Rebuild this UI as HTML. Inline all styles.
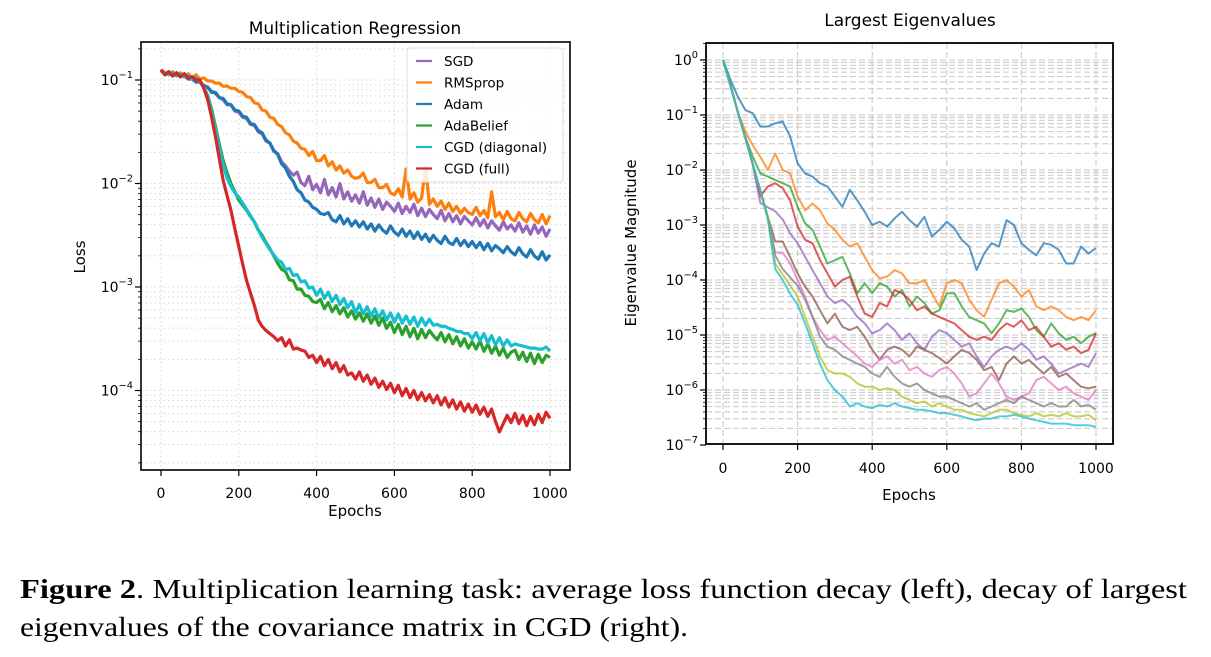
<!DOCTYPE html>
<html><head><meta charset="utf-8"><style>
html,body{margin:0;padding:0;background:#fff;}
svg{display:block;}
</style></head><body>
<svg id="fig" width="1211" height="657" viewBox="0 0 1211 657" xmlns="http://www.w3.org/2000/svg" font-family="'DejaVu Sans','Liberation Sans',sans-serif">
<g id="left"></g>
<g id="right"></g>
<g font-family="'Liberation Serif',serif" font-size="27" fill="#000">
<text x="20" y="598" textLength="1167" lengthAdjust="spacingAndGlyphs"><tspan font-weight="bold">Figure 2</tspan>. Multiplication learning task: average loss function decay (left), decay of largest</text>
<text x="20" y="636" textLength="668" lengthAdjust="spacingAndGlyphs">eigenvalues of the covariance matrix in CGD (right).</text>
</g>
</svg>
<script>
// ---------- LEFT CHART DATA (log10 loss, epochs 0..1000 step 10) ----------
const lossEpochStep = 10;
const seriesNames = ["SGD","RMSprop","Adam","AdaBelief","CGD (diagonal)","CGD (full)"];
const sgdLog = [-0.90,-0.94,-0.92,-0.95,-0.93,-0.97,-0.94,-0.98,-0.97,-1.01,-1.02,
-1.05,-1.07,-1.11,-1.13,-1.17,-1.19,-1.24,-1.24,-1.30,-1.31,
-1.36,-1.37,-1.43,-1.44,-1.50,-1.52,-1.59,-1.61,-1.69,-1.71,
-1.79,-1.83,-1.88,-1.92,-1.89,-1.99,-2.02,-1.93,-2.06,-2.01,
-2.09,-1.96,-2.11,-2.04,-2.13,-2.00,-2.15,-2.08,-2.17,-2.11,
-2.19,-2.08,-2.21,-2.14,-2.23,-2.15,-2.25,-2.18,-2.22,-2.27,
-2.19,-2.29,-2.22,-2.28,-2.20,-2.31,-2.24,-2.32,-2.25,-2.30,
-2.34,-2.26,-2.36,-2.29,-2.37,-2.31,-2.39,-2.32,-2.36,-2.40,
-2.33,-2.41,-2.35,-2.43,-2.36,-2.41,-2.45,-2.37,-2.44,-2.40,
-2.46,-2.38,-2.47,-2.41,-2.49,-2.40,-2.48,-2.42,-2.51,-2.44];
const rmspropLog = [-0.90,-0.93,-0.95,-0.92,-0.96,-0.93,-0.97,-0.94,-0.98,-0.95,-0.99,
-0.98,-1.01,-1.01,-1.03,-1.03,-1.06,-1.06,-1.08,-1.08,-1.11,
-1.12,-1.16,-1.17,-1.22,-1.23,-1.29,-1.30,-1.36,-1.37,-1.43,
-1.45,-1.51,-1.53,-1.59,-1.61,-1.66,-1.67,-1.73,-1.69,-1.78,
-1.78,-1.73,-1.83,-1.79,-1.87,-1.83,-1.90,-1.87,-1.93,-1.95,
-1.94,-1.90,-1.99,-1.99,-1.96,-2.04,-2.04,-2.01,-2.09,-2.11,
-2.05,-2.13,-1.86,-2.15,-2.09,-2.18,-2.14,-1.84,-2.20,-2.15,
-2.22,-2.17,-2.25,-2.19,-2.27,-2.22,-2.29,-2.24,-2.28,-2.30,
-2.23,-2.31,-2.26,-2.33,-2.08,-2.32,-2.28,-2.35,-2.27,-2.34,
-2.36,-2.28,-2.34,-2.37,-2.29,-2.35,-2.38,-2.30,-2.39,-2.31];
const adamLog = [-0.91,-0.94,-0.94,-0.95,-0.95,-0.96,-0.96,-0.99,-0.99,-1.02,-1.02,
-1.06,-1.07,-1.12,-1.12,-1.17,-1.18,-1.23,-1.24,-1.29,-1.30,
-1.35,-1.36,-1.42,-1.43,-1.49,-1.51,-1.58,-1.61,-1.68,-1.72,
-1.81,-1.85,-1.93,-1.98,-2.06,-2.09,-2.16,-2.18,-2.23,-2.25,
-2.29,-2.30,-2.28,-2.35,-2.37,-2.31,-2.39,-2.34,-2.41,-2.36,
-2.42,-2.37,-2.44,-2.39,-2.46,-2.40,-2.45,-2.48,-2.41,-2.47,
-2.50,-2.44,-2.51,-2.46,-2.53,-2.47,-2.54,-2.49,-2.56,-2.50,
-2.55,-2.58,-2.51,-2.57,-2.59,-2.53,-2.60,-2.55,-2.61,-2.56,
-2.62,-2.57,-2.64,-2.58,-2.65,-2.60,-2.63,-2.67,-2.61,-2.66,
-2.69,-2.62,-2.68,-2.71,-2.64,-2.70,-2.73,-2.66,-2.74,-2.69];
const adabeliefLog = [-0.90,-0.95,-0.92,-0.96,-0.93,-0.97,-0.94,-0.98,-0.97,-1.00,-1.02,
-1.07,-1.15,-1.28,-1.45,-1.62,-1.78,-1.90,-2.00,-2.08,-2.16,
-2.21,-2.26,-2.32,-2.37,-2.45,-2.50,-2.57,-2.63,-2.70,-2.77,
-2.83,-2.85,-2.93,-2.94,-3.02,-3.02,-3.08,-3.09,-3.14,-3.15,
-3.12,-3.21,-3.15,-3.24,-3.18,-3.26,-3.20,-3.29,-3.23,-3.31,
-3.25,-3.33,-3.26,-3.35,-3.28,-3.37,-3.30,-3.40,-3.34,-3.44,
-3.36,-3.46,-3.38,-3.48,-3.40,-3.50,-3.41,-3.49,-3.42,-3.47,
-3.51,-3.44,-3.53,-3.46,-3.55,-3.48,-3.57,-3.50,-3.59,-3.53,
-3.60,-3.52,-3.62,-3.55,-3.64,-3.57,-3.66,-3.59,-3.68,-3.63,
-3.61,-3.70,-3.63,-3.72,-3.64,-3.74,-3.65,-3.73,-3.66,-3.68];
const cgdDiagLog = [-0.91,-0.93,-0.95,-0.93,-0.96,-0.94,-0.97,-0.96,-0.99,-0.98,-1.02,
-1.07,-1.16,-1.30,-1.48,-1.66,-1.82,-1.95,-2.03,-2.09,-2.13,
-2.19,-2.25,-2.31,-2.37,-2.45,-2.52,-2.58,-2.64,-2.69,-2.74,
-2.76,-2.83,-2.82,-2.89,-2.88,-2.95,-2.94,-3.01,-3.00,-3.08,
-3.02,-3.11,-3.05,-3.14,-3.08,-3.17,-3.11,-3.20,-3.14,-3.25,
-3.17,-3.26,-3.19,-3.28,-3.21,-3.30,-3.23,-3.32,-3.25,-3.34,
-3.26,-3.35,-3.28,-3.36,-3.29,-3.38,-3.30,-3.37,-3.31,-3.37,
-3.36,-3.38,-3.38,-3.40,-3.41,-3.43,-3.43,-3.45,-3.45,-3.50,
-3.44,-3.52,-3.45,-3.54,-3.47,-3.56,-3.49,-3.57,-3.51,-3.57,
-3.55,-3.56,-3.57,-3.58,-3.59,-3.59,-3.60,-3.60,-3.58,-3.62];
const cgdFullLog = [-0.90,-0.95,-0.92,-0.96,-0.93,-0.97,-0.94,-0.98,-0.97,-1.00,-1.00,
-1.08,-1.19,-1.36,-1.55,-1.76,-1.97,-2.12,-2.26,-2.44,-2.61,
-2.78,-2.94,-3.06,-3.18,-3.32,-3.38,-3.42,-3.45,-3.48,-3.52,
-3.49,-3.57,-3.51,-3.60,-3.59,-3.61,-3.62,-3.68,-3.66,-3.73,
-3.67,-3.76,-3.70,-3.79,-3.73,-3.82,-3.76,-3.85,-3.83,-3.89,
-3.82,-3.91,-3.85,-3.94,-3.88,-3.97,-3.91,-3.99,-3.93,-4.02,
-3.95,-4.05,-3.98,-4.07,-4.00,-4.09,-4.02,-4.10,-4.04,-4.12,
-4.05,-4.14,-4.07,-4.16,-4.09,-4.18,-4.11,-4.20,-4.13,-4.21,
-4.14,-4.23,-4.16,-4.25,-4.18,-4.30,-4.40,-4.32,-4.24,-4.31,
-4.22,-4.32,-4.24,-4.34,-4.25,-4.33,-4.23,-4.31,-4.21,-4.27];
const xTickLabels = ["0","200","400","600","800","1000"];
const xTickValues = [0,200,400,600,800,1000];
const lossDecades = [-1,-2,-3,-4];
const eigDecades = [0,-1,-2,-3,-4,-5,-6,-7];

// ---------- RIGHT CHART DATA (log10 eigenvalue, epochs 0..1000 step 20) ----------
const eigEpochStep = 20;
const eig1 = [0,-0.36,-0.67,-0.91,-0.97,-1.21,-1.21,-1.15,-1.12,-1.39,-1.88,-2.06,-2.12,-2.24,-2.30,-2.48,-2.67,-2.36,-2.55,-2.76,-3.00,-2.94,-3.03,-2.88,-2.76,-2.91,-3.03,-2.85,-3.21,-3.09,-2.94,-3.06,-3.27,-3.39,-3.82,-3.52,-3.33,-3.39,-2.91,-3.00,-3.33,-3.45,-3.55,-3.33,-3.36,-3.45,-3.70,-3.70,-3.39,-3.52,-3.42];
const eig2 = [0,-0.45,-0.95,-1.30,-1.55,-1.76,-2.00,-1.70,-2.00,-2.06,-2.48,-2.73,-2.61,-2.73,-2.97,-3.09,-3.27,-3.39,-3.33,-3.58,-3.82,-3.97,-3.94,-3.82,-3.88,-4.06,-4.06,-4.00,-4.24,-4.48,-4.06,-4.00,-4.06,-4.36,-4.55,-4.67,-4.36,-4.06,-4.00,-4.12,-4.30,-4.18,-4.48,-4.55,-4.48,-4.55,-4.67,-4.73,-4.67,-4.73,-4.55];
const eig3 = [0,-0.45,-0.95,-1.40,-1.76,-2.06,-2.12,-2.18,-2.24,-2.30,-2.67,-2.97,-3.09,-3.39,-3.70,-3.64,-3.58,-3.88,-4.24,-4.06,-4.24,-4.06,-4.12,-4.30,-4.18,-4.48,-4.30,-4.42,-4.61,-4.55,-4.24,-4.24,-4.48,-4.67,-4.73,-4.79,-4.97,-4.79,-4.55,-4.58,-4.52,-4.67,-4.91,-5.03,-4.79,-4.97,-5.09,-5.03,-5.15,-5.03,-4.97];
const eig4 = [0,-0.47,-0.95,-1.42,-1.90,-2.48,-2.30,-2.24,-2.33,-2.55,-3.03,-3.27,-3.33,-3.64,-3.88,-4.12,-4.00,-3.94,-4.30,-4.61,-4.67,-4.42,-4.48,-4.18,-4.24,-4.36,-4.55,-4.48,-4.61,-4.67,-4.73,-4.79,-4.91,-5.03,-5.09,-5.03,-5.09,-4.91,-4.79,-4.85,-4.73,-4.91,-4.85,-5.03,-5.21,-5.15,-5.27,-5.21,-5.33,-5.27,-4.97];
const eig5 = [0,-0.47,-0.95,-1.42,-1.90,-2.60,-2.68,-2.75,-2.90,-3.15,-3.33,-3.58,-3.82,-4.06,-4.30,-4.42,-4.36,-4.48,-4.67,-4.79,-4.97,-4.91,-4.79,-4.91,-5.09,-4.97,-5.15,-5.27,-5.03,-4.91,-4.97,-5.09,-5.21,-5.15,-5.39,-5.58,-5.39,-5.27,-5.21,-5.27,-5.15,-5.27,-5.45,-5.39,-5.52,-5.70,-5.64,-5.58,-5.52,-5.58,-5.33];
const eig6 = [0,-0.47,-0.95,-1.42,-1.90,-2.37,-2.85,-3.30,-3.30,-3.58,-3.88,-4.12,-4.30,-4.55,-4.79,-4.61,-4.85,-4.91,-4.85,-5.03,-5.27,-5.45,-5.27,-5.21,-5.27,-5.39,-5.21,-5.27,-5.33,-5.42,-5.52,-5.39,-5.27,-5.33,-5.45,-5.64,-5.58,-5.82,-5.52,-5.39,-5.52,-5.45,-5.58,-5.70,-5.58,-5.76,-5.70,-5.82,-5.94,-5.97,-5.94];
const eig7 = [0,-0.47,-0.95,-1.42,-1.90,-2.37,-2.85,-3.50,-3.50,-3.70,-4.00,-4.30,-4.67,-4.91,-5.09,-5.03,-5.15,-5.27,-5.39,-5.52,-5.58,-5.45,-5.39,-5.52,-5.45,-5.64,-5.58,-5.70,-5.76,-5.64,-5.58,-5.70,-5.88,-6.12,-6.06,-5.88,-5.70,-5.88,-6.12,-6.18,-6.12,-6.06,-5.82,-5.76,-5.88,-6.00,-5.94,-6.06,-6.12,-6.18,-6.00];
const eig8 = [0,-0.47,-0.95,-1.42,-1.90,-2.37,-2.85,-3.55,-3.80,-3.95,-4.10,-4.36,-4.67,-5.03,-5.21,-5.27,-5.39,-5.45,-5.52,-5.58,-5.70,-5.76,-5.58,-5.76,-5.88,-5.94,-5.88,-6.00,-6.06,-6.12,-6.12,-6.18,-6.24,-6.30,-6.24,-6.36,-6.30,-6.24,-6.18,-6.24,-6.12,-6.18,-6.24,-6.30,-6.24,-6.30,-6.30,-6.18,-6.30,-6.27,-6.36];
const eig9 = [0,-0.47,-0.95,-1.42,-1.90,-2.37,-2.85,-3.70,-3.90,-4.10,-4.30,-4.67,-5.03,-5.39,-5.64,-5.70,-5.70,-5.76,-5.88,-5.94,-5.94,-6.00,-5.97,-6.00,-6.12,-6.18,-6.24,-6.21,-6.30,-6.24,-6.30,-6.36,-6.36,-6.42,-6.45,-6.48,-6.42,-6.36,-6.36,-6.42,-6.45,-6.48,-6.42,-6.48,-6.45,-6.48,-6.42,-6.48,-6.48,-6.45,-6.55];
const eig10 = [0,-0.47,-0.95,-1.42,-1.90,-2.37,-2.90,-3.80,-4.00,-4.25,-4.45,-4.79,-5.15,-5.52,-5.82,-6.00,-6.12,-6.30,-6.24,-6.30,-6.33,-6.27,-6.30,-6.24,-6.30,-6.33,-6.36,-6.36,-6.39,-6.42,-6.42,-6.45,-6.48,-6.52,-6.55,-6.52,-6.52,-6.48,-6.48,-6.45,-6.48,-6.52,-6.55,-6.58,-6.61,-6.61,-6.61,-6.64,-6.64,-6.64,-6.67];

const NS = "http://www.w3.org/2000/svg";
function mk(parent, tag, attrs){ const e=document.createElementNS(NS,tag); for(const k in attrs) e.setAttribute(k,attrs[k]); parent.appendChild(e); return e; }
function powLabel(parent, x, y, exp, size){
  const t = mk(parent,"text",{x:x,y:y,"text-anchor":"end","font-size":size,fill:"#000"});
  
  
  t.appendChild(document.createTextNode("10"));
  const s = mk(t,"tspan",{dy:-7,"font-size":size*0.7});
  s.textContent = (exp<0? "\u2212"+(-exp) : String(exp));
  return t;
}

// ---------- LEFT CHART ----------
(function(){
  const g = document.getElementById('left');
  const L={x0:141,x1:570,y0:42,y1:470};
  const xs = e => 161 + e*(550-161)/1000;
  const ys = lg => 80 + (-1-lg)*103.5;
  const grid = mk(g,"g",{stroke:"#d6d6d6","stroke-width":1,"stroke-dasharray":"1.5,3"});
  
  
  xTickValues.forEach(v=>mk(grid,"line",{x1:xs(v),x2:xs(v),y1:L.y0,y2:L.y1}));
  for(let d=-5; d<=-1; d++){ for(let m=1;m<=9;m++){ const y=ys(d+Math.log10(m)); if(y>L.y0&&y<L.y1) mk(grid,"line",{x1:L.x0,x2:L.x1,y1:y,y2:y}); } }
  const cols = {sgd:"#9467bd",rms:"#ff7f0e",adam:"#1f77b4",ada:"#2ca02c",diag:"#17becf",full:"#d62728"};
  const series = [[sgdLog,cols.sgd,"sgd-line"],[rmspropLog,cols.rms,"rmsprop-line"],[adamLog,cols.adam,"adam-line"],[adabeliefLog,cols.ada,"adabelief-line"],[cgdDiagLog,cols.diag,"cgd-diagonal-line"],[cgdFullLog,cols.full,"cgd-full-line"]];
  series.forEach(([arr,c,n])=>{
    const pts = arr.map((v,i)=>xs(i*lossEpochStep).toFixed(1)+","+ys(v).toFixed(1)).join(" ");
    const p = mk(g,"polyline",{points:pts,fill:"none",stroke:c,"stroke-width":3.2,"stroke-linejoin":"round"});
    
    
  });
  const fr = mk(g,"rect",{x:L.x0,y:L.y0,width:L.x1-L.x0,height:L.y1-L.y0,fill:"none",stroke:"#000","stroke-width":1.6});
  
  
  xTickValues.forEach((v,i)=>{
    mk(g,"line",{x1:xs(v),x2:xs(v),y1:L.y1,y2:L.y1+6,stroke:"#000","stroke-width":1.2});
    const t=mk(g,"text",{x:xs(v),y:498,"text-anchor":"middle","font-size":14,fill:"#000"});
    
    
    t.textContent = xTickLabels[i];
  });
  for(let d=-5; d<=-1; d++){ for(let m=1;m<=9;m++){ const y=ys(d+Math.log10(m)); if(y>=L.y0&&y<=L.y1) mk(g,"line",{x1:L.x0-(m==1?6:3),x2:L.x0,y1:y,y2:y,stroke:"#000","stroke-width":m==1?1.2:0.8}); } }
  lossDecades.forEach(d=>powLabel(g,133,ys(d)+5,d,14));
  const xl=mk(g,"text",{x:355,y:516,"text-anchor":"middle","font-size":15,fill:"#000"}); xl.textContent="Epochs";
   
  const yl=mk(g,"text",{x:0,y:0,transform:"translate(85,257) rotate(-90)","text-anchor":"middle","font-size":15,fill:"#000"}); yl.textContent="Loss";
   
  const ti=mk(g,"text",{x:355,y:34,"text-anchor":"middle","font-size":17,fill:"#000"}); ti.textContent="Multiplication Regression";
   
  const lg = mk(g,"g",{});
  
  
  mk(lg,"rect",{x:407,y:48,width:156,height:134,rx:3,fill:"#fff","fill-opacity":0.85,stroke:"#dcdcdc","stroke-width":1});
  const lc=[cols.sgd,cols.rms,cols.adam,cols.ada,cols.diag,cols.full];
  seriesNames.forEach((n,i)=>{
    const y=61+i*21.5;
    const e=mk(lg,"g",{});
    
    
    mk(e,"line",{x1:416,x2:432,y1:y,y2:y,stroke:lc[i],"stroke-width":2.2});
    const t=mk(e,"text",{x:444,y:y+5,"font-size":13.5,fill:"#000"}); t.textContent=n;
  });
})();

// ---------- RIGHT CHART ----------
(function(){
  const g = document.getElementById('right');
  const R={x0:706,x1:1113,y0:43,y1:444};
  const xs = e => 723 + e*(1096-723)/1000;
  const ys = lg => 60 + (-lg)*55;
  const grid = mk(g,"g",{stroke:"#cfcfcf","stroke-width":1.2,"stroke-dasharray":"6,3"});
  
  
  xTickValues.forEach(v=>mk(grid,"line",{x1:xs(v),x2:xs(v),y1:R.y0,y2:R.y1}));
  for(let d=-7; d<=0; d++){ for(let m=1;m<=9;m++){ const y=ys(d+Math.log10(m)); if(y>R.y0&&y<R.y1) mk(grid,"line",{x1:R.x0,x2:R.x1,y1:y,y2:y}); } }
  const eigSeries=[eig1,eig2,eig3,eig4,eig5,eig6,eig7,eig8,eig9,eig10];
  const tab=["#1f77b4","#ff7f0e","#2ca02c","#d62728","#9467bd","#8c564b","#e377c2","#7f7f7f","#bcbd22","#17becf"];
  eigSeries.forEach((arr,k)=>{
    const pts = arr.map((v,i)=>xs(i*eigEpochStep).toFixed(1)+","+ys(v).toFixed(1)).join(" ");
    const p=mk(g,"polyline",{points:pts,fill:"none",stroke:tab[k],"stroke-width":2,"stroke-opacity":0.75,"stroke-linejoin":"round"});
    
    
  });
  const fr=mk(g,"rect",{x:R.x0,y:R.y0,width:R.x1-R.x0,height:R.y1-R.y0,fill:"none",stroke:"#000","stroke-width":1.8});
  
  
  xTickValues.forEach((v,i)=>{
    mk(g,"line",{x1:xs(v),x2:xs(v),y1:R.y1,y2:R.y1+6,stroke:"#000","stroke-width":1.2});
    const t=mk(g,"text",{x:xs(v),y:473,"text-anchor":"middle","font-size":14,fill:"#000"});
    
    
    t.textContent=xTickLabels[i];
  });
  for(let d=-7; d<=0; d++){ for(let m=1;m<=9;m++){ const y=ys(d+Math.log10(m)); if(y>=R.y0&&y<=R.y1+1) mk(g,"line",{x1:R.x0-(m==1?6:3),x2:R.x0,y1:y,y2:y,stroke:"#000","stroke-width":m==1?1.2:0.8}); } }
  eigDecades.forEach(d=>powLabel(g,698,ys(d)+5,d,14));
  const xl=mk(g,"text",{x:909,y:500,"text-anchor":"middle","font-size":15,fill:"#000"}); xl.textContent="Epochs";
   
  const yl=mk(g,"text",{x:0,y:0,transform:"translate(636,243) rotate(-90)","text-anchor":"middle","font-size":15,fill:"#000"}); yl.textContent="Eigenvalue Magnitude";
   
  const ti=mk(g,"text",{x:910,y:26,"text-anchor":"middle","font-size":17,fill:"#000"}); ti.textContent="Largest Eigenvalues";
   
})();
</script>
</body></html>
